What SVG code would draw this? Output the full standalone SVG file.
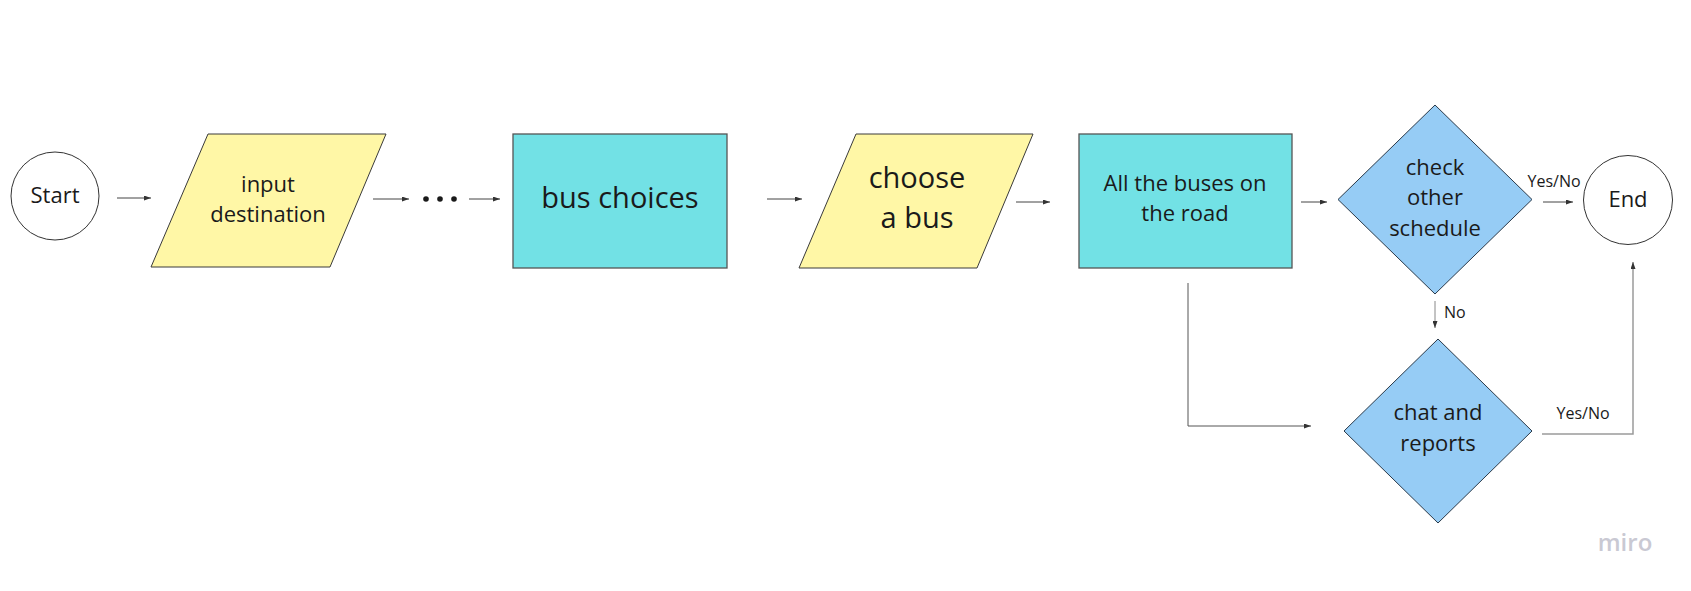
<svg xmlns="http://www.w3.org/2000/svg" width="1691" height="591" viewBox="0 0 1691 591">
<defs>
<style>
.lbl{font-family:"Open Sans","Noto Sans","Liberation Sans",sans-serif;fill:#1a1a1a;text-anchor:middle}
.t22{font-size:22px}
.t29{font-size:29px}
.t16{font-size:16px}
.io{fill:#fff7a6;stroke:#3a3a3a;stroke-width:1}
.proc{fill:#72e1e5;stroke:#555;stroke-width:1.3}
.dec{fill:#96ccf5;stroke:#2a3a4a;stroke-width:1}
.term{fill:#fff;stroke:#333;stroke-width:1}
.con{fill:none;stroke:#444;stroke-width:1;marker-end:url(#ah)}
.con2{fill:none;stroke:#9a9a9a;stroke-width:1.5}
</style>
<marker id="ah" markerUnits="userSpaceOnUse" markerWidth="8" markerHeight="5" refX="7" refY="2.5" orient="auto">
<path d="M0,0 L7,2.5 L0,5 z" fill="#333"/>
</marker>
</defs>
<rect width="1691" height="591" fill="#fff"/>
<g id="connectors">
<line class="con" x1="117" y1="198" x2="151" y2="198"/>
<line class="con" x1="373" y1="199" x2="409" y2="199"/>
<circle cx="426" cy="199" r="2.8" fill="#1a1a1a"/>
<circle cx="440" cy="199" r="2.8" fill="#1a1a1a"/>
<circle cx="454" cy="199" r="2.8" fill="#1a1a1a"/>
<line class="con" x1="469" y1="199" x2="500" y2="199"/>
<line class="con" x1="767" y1="199" x2="802" y2="199"/>
<line class="con" x1="1016" y1="202" x2="1050" y2="202"/>
<line class="con" x1="1301" y1="202" x2="1327" y2="202"/>
<line class="con" x1="1543" y1="202" x2="1573" y2="202"/>
<text class="lbl t16" x="1554" y="187">Yes/No</text>
<line class="con" x1="1435" y1="301" x2="1435" y2="328" style="stroke:#888"/>
<text class="lbl t16" x="1444" y="318" style="text-anchor:start">No</text>
<polyline class="con" points="1188,283 1188,426 1311,426" style="stroke:#555"/>
<polyline class="con2" points="1542,434 1633,434 1633,262" marker-end="url(#ah)"/>
<text class="lbl t16" x="1583" y="419">Yes/No</text>
</g>
<g id="start">
<circle class="term" cx="55" cy="196" r="44"/>
<text class="lbl t22" x="55" y="203">Start</text>
</g>
<g id="input-destination">
<polygon class="io" points="208,134 386,134 330,267 151,267"/>
<text class="lbl t22" x="268" y="192">input</text>
<text class="lbl t22" x="268" y="222">destination</text>
</g>
<g id="bus-choices">
<rect class="proc" x="513" y="134" width="214" height="134"/>
<text class="lbl t29" x="620" y="208">bus choices</text>
</g>
<g id="choose-a-bus">
<polygon class="io" points="856,134 1033,134 977,268 799,268"/>
<text class="lbl t29" x="917" y="188">choose</text>
<text class="lbl t29" x="917" y="228">a bus</text>
</g>
<g id="all-buses">
<rect class="proc" x="1079" y="134" width="213" height="134"/>
<text class="lbl t22" x="1185" y="191">All the buses on</text>
<text class="lbl t22" x="1185" y="221">the road</text>
</g>
<g id="check-other-schedule">
<polygon class="dec" points="1435,105 1532,199.5 1435,294 1338,199.5"/>
<text class="lbl t22" x="1435" y="175">check</text>
<text class="lbl t22" x="1435" y="205">other</text>
<text class="lbl t22" x="1435" y="236">schedule</text>
</g>
<g id="end">
<circle class="term" cx="1628" cy="200" r="44.5"/>
<text class="lbl t22" x="1628" y="207">End</text>
</g>
<g id="chat-and-reports">
<polygon class="dec" points="1438,339 1532,431 1438,523 1344,431"/>
<text class="lbl t22" x="1438" y="420">chat and</text>
<text class="lbl t22" x="1438" y="451">reports</text>
</g>
<text x="1625" y="551" style="font-family:'Open Sans','Noto Sans',sans-serif;font-size:24px;font-weight:600;fill:#c9c9d3;text-anchor:middle">miro</text>
</svg>
